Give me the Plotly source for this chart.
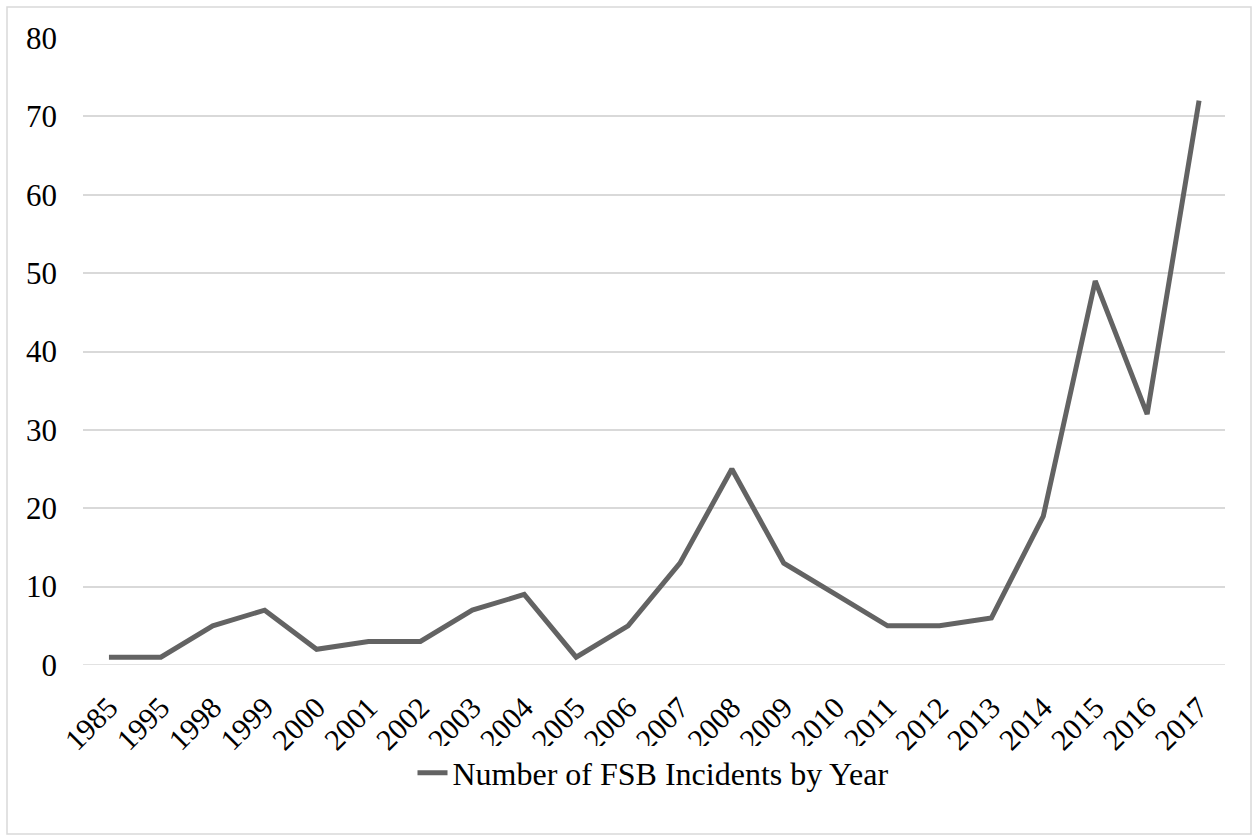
import plotly.graph_objects as go

# FSB incidents recorded per year
years = ["1985", "1995", "1998", "1999", "2000", "2001", "2002", "2003", "2004", "2005", "2006",
         "2007", "2008", "2009", "2010", "2011", "2012", "2013", "2014", "2015", "2016", "2017"]
incidents = [1, 1, 5, 7, 2, 3, 3, 7, 9, 1, 5, 13, 25, 13, 9, 5, 5, 6, 19, 49, 32, 72]
y_ticks = [0, 10, 20, 30, 40, 50, 60, 70, 80]

W, H = 1253, 835
L, R, T, B = 83, 28, 38, 170
pw, ph = W - L - R, H - T - B

def px_x(p):
    return (p - L) / pw

def px_y(p):
    return (H - B - p) / ph

fig = go.Figure()
fig.add_trace(go.Scatter(
    x=years, y=incidents, mode="lines",
    name="Number of FSB Incidents by Year",
    line=dict(color="#636363", width=5),
))

font = "Liberation Serif, Times New Roman, serif"
fig.update_layout(
    width=W, height=H,
    margin=dict(l=L, r=R, t=T, b=B),
    paper_bgcolor="white", plot_bgcolor="white",
    font=dict(family=font, size=31, color="black"),
    showlegend=True,
    legend=dict(orientation="h", x=px_x(653), xanchor="center", y=px_y(773), yanchor="middle",
                font=dict(size=32), itemwidth=30),
    xaxis=dict(type="category", range=[-0.5, len(years) - 0.5], tickangle=-45,
               showgrid=False, showline=False, ticks="", tickfont=dict(size=30),
               ticklabelstandoff=18),
    yaxis=dict(range=[0, 80], tickvals=y_ticks, showgrid=True, gridcolor="#d9d9d9",
               gridwidth=1.5, zeroline=False, showline=False, ticks="",
               tickfont=dict(size=31), ticklabelstandoff=25),
    shapes=[dict(type="line", xref="paper", yref="y", x0=0, x1=1, y0=0, y1=0,
                 line=dict(color="#d9d9d9", width=1.5), layer="below"),
            dict(type="rect", xref="paper", yref="paper",
                 x0=px_x(7), x1=px_x(1251), y0=px_y(834), y1=px_y(7),
                 line=dict(color="#d9d9d9", width=1.5))],
)

fig.write_html("out.html")
